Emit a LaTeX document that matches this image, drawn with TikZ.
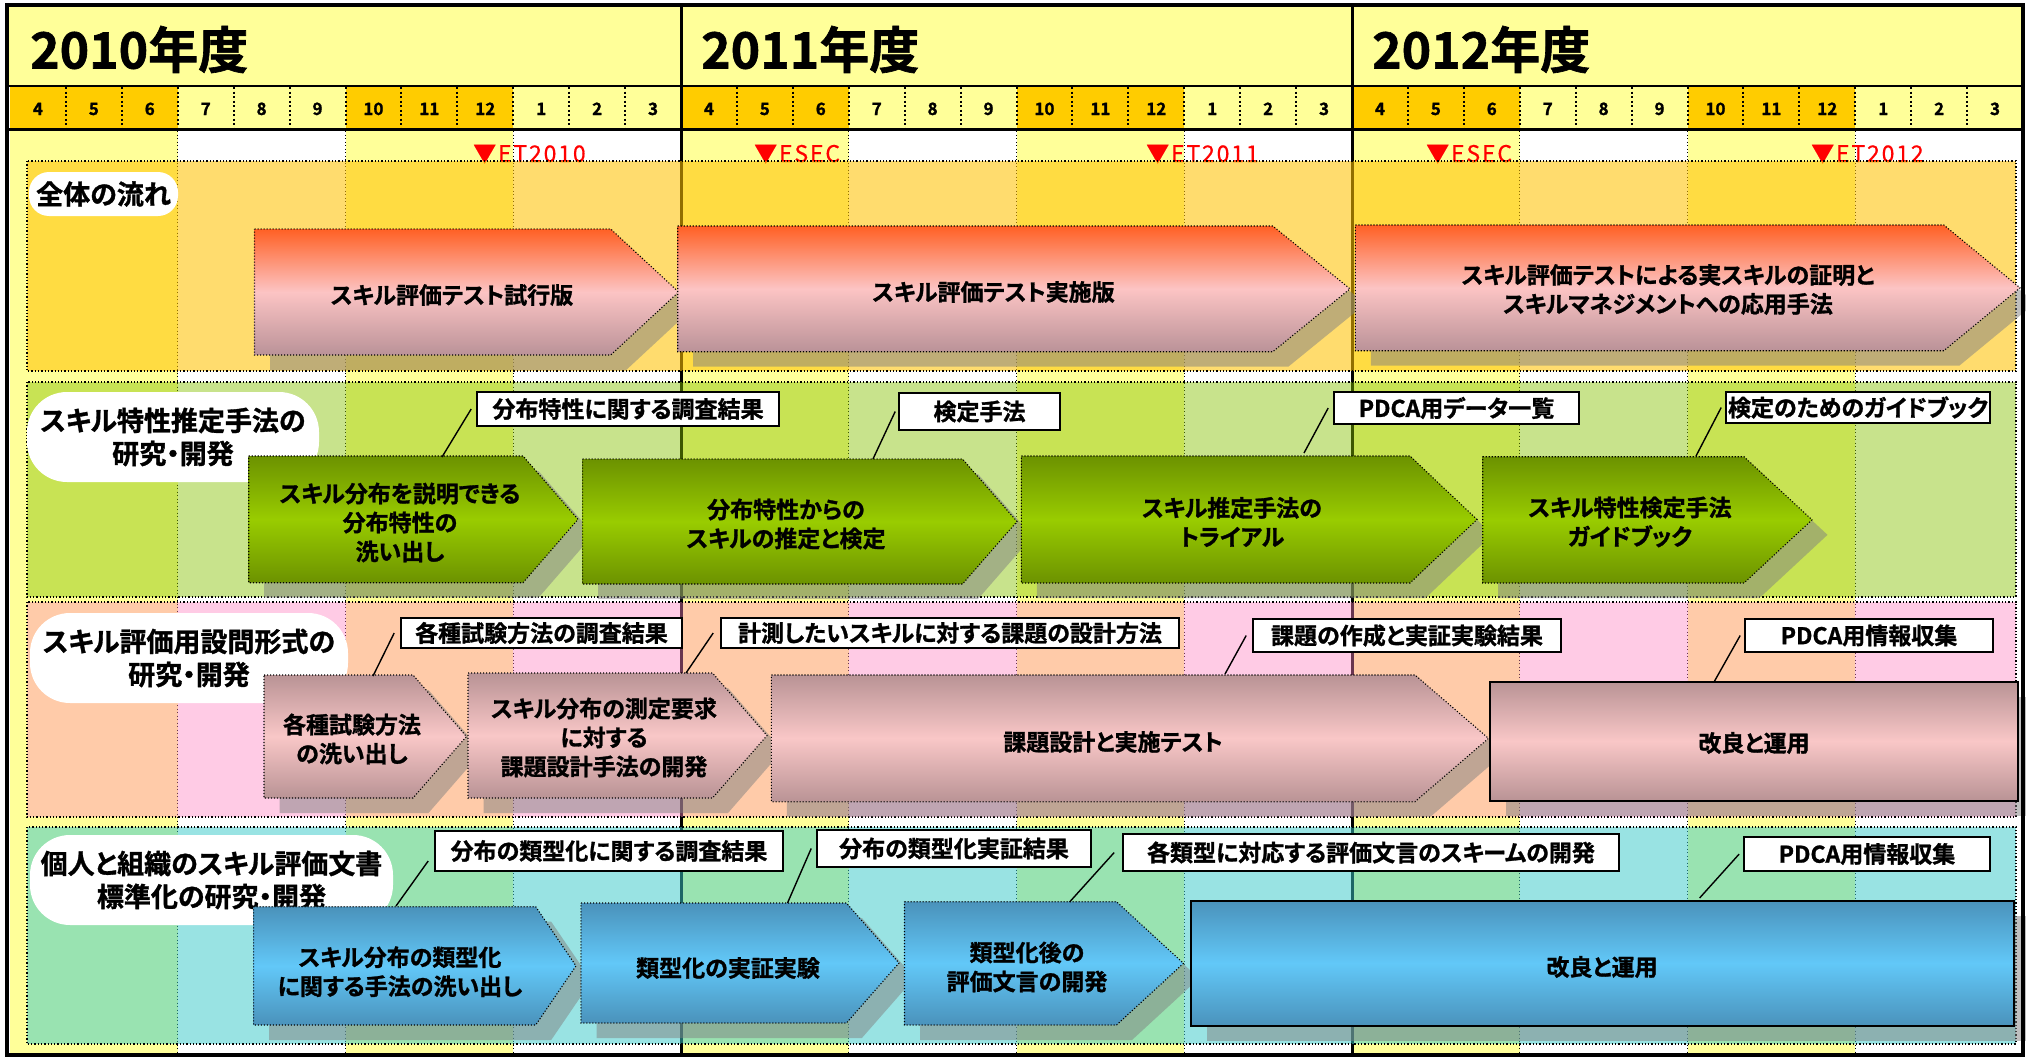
\documentclass[tikz,border=0pt]{standalone}
\usepackage{fontspec}
\setmainfont{Noto Sans CJK JP Bold}[RawFeature={+palt}, FakeBold=1.2]
\newfontfamily\mkfont{Noto Sans CJK JP}[LetterSpace=8, FakeBold=0.6]
\usetikzlibrary{calc}
\definecolor{hy}{HTML}{FFFF99}
\definecolor{ho}{HTML}{FFCC00}
\definecolor{b1c}{RGB}{255,194,0}
\definecolor{b2c}{RGB}{135,195,0}
\definecolor{b3c}{RGB}{255,131,194}
\definecolor{b4c}{RGB}{55,202,202}
\definecolor{redtop}{RGB}{255,96,36}
\definecolor{redmid}{RGB}{252,196,196}
\definecolor{redbot}{RGB}{186,146,152}
\definecolor{grnout}{RGB}{108,146,0}
\definecolor{grnmid}{RGB}{153,204,0}
\definecolor{pnkout}{RGB}{185,147,149}
\definecolor{pnkmid}{RGB}{249,199,199}
\definecolor{bluout}{RGB}{74,146,187}
\definecolor{blumid}{RGB}{98,200,248}
\definecolor{mkred}{RGB}{255,0,0}
% #1 style, #2 x left, #3 y top, #4 x point start, #5 x tip, #6 y bottom
\newcommand{\ArrowShape}[6]{%
  \fill[shadowfill] ({#2+15.5},{#3+15}) -- ({#4+15.5},{#3+15}) -- ({#5+15.5},{(#3+#6)/2+15}) -- ({#4+15.5},{#6+15}) -- ({#2+15.5},{#6+15}) -- cycle;
  \path[#1] (#2,#3) -- (#4,#3) -- (#5,{(#3+#6)/2}) -- (#4,#6) -- (#2,#6) -- cycle;
}
\begin{document}
\begin{tikzpicture}[x=1pt,y=-1pt,
  txt/.style={font=\fontsize{23}{29}\selectfont, align=center, inner sep=0pt, text=black},
  pill/.style={fill=white, inner sep=0pt, align=center, font=\fontsize{27}{33}\selectfont},
  callout/.style={draw=black, line width=1.6pt, fill=white, inner sep=0pt, font=\fontsize{23}{27}\selectfont},
  leader/.style={draw=black, line width=1.4pt},
  arrdot/.style={draw=black, line width=1.1pt, dash pattern=on 1.1pt off 1.9pt},
  arrsolid/.style={draw=black, line width=2pt},
  shadowfill/.style={fill=gray, fill opacity=0.5},
  redarr/.style={top color=redtop, bottom color=redbot, middle color=redmid},
  grnarr/.style={top color=grnout, bottom color=grnout, middle color=grnmid},
  pnkarr/.style={top color=pnkout, bottom color=pnkout, middle color=pnkmid},
  bluarr/.style={top color=bluout, bottom color=bluout, middle color=blumid},
  qline/.style={draw=black, line width=1.3pt, dash pattern=on 1.3pt off 2.2pt},
  mline/.style={draw=black, line width=2pt, dash pattern=on 2pt off 2.5pt},
  bandline/.style={draw=black, line width=1.3pt, dash pattern=on 1.3pt off 2pt},
  mnum/.style={font=\fontsize{17}{17}\selectfont, anchor=base, inner sep=0pt},
  ytitle/.style={font=\fontsize{50}{50}\selectfont, anchor=base west, inner sep=0pt},
  marker/.style={font=\mkfont\fontsize{23}{23}\selectfont, text=mkred, anchor=base west, inner sep=0pt}
]
\useasboundingbox (0,0) rectangle (2026,1057);
\fill[white] (0,0) rectangle (2026,1057);
% header rows
\fill[hy] (7,5) rectangle (2023,86);
\foreach \i in {0,...,35}{
  \pgfmathsetmacro\xa{10+55.9167*\i}
  \pgfmathsetmacro\xb{\xa+55.9167}
  \pgfmathtruncatemacro\q{mod(\i,12)/3}
  \pgfmathtruncatemacro\mo{mod(\i+3,12)+1}
  \ifodd\q \def\cc{hy}\else\def\cc{ho}\fi
  \fill[\cc] (\xa,86) rectangle (\xb,129);
  \node[mnum] (m\i) at ({(\xa+\xb)/2},115) {\mo};
}
\foreach \i in {1,...,35}{
  \pgfmathtruncatemacro\r{mod(\i,12)}
  \ifnum\r>0 \draw[mline] ({10+55.9167*\i},87) -- ({10+55.9167*\i},128); \fi
}
% body background quarters
\foreach \q in {0,...,11}{
  \pgfmathsetmacro\xa{10+167.75*\q}
  \pgfmathsetmacro\xb{\xa+167.75}
  \ifodd\q \def\cc{white}\else\def\cc{hy}\fi
  \fill[\cc] (\xa,131) rectangle (\xb,1054);
}
\foreach \q in {1,2,3,5,6,7,9,10,11}{
  \draw[qline] ({10+167.75*\q},131) -- ({10+167.75*\q},1054);
}
% event markers
\node[marker] (e1) at (473,162) {▼ET2010};
\node[marker] (e2) at (754,162) {▼ESEC};
\node[marker] (e3) at (1146,162) {▼ET2011};
\node[marker] (e4) at (1426,162) {▼ESEC};
\node[marker] (e5) at (1811,162) {▼ET2012};
% year lines
\draw[line width=3pt] (681,5) -- (681,1055);
\draw[line width=3pt] (1352,5) -- (1352,1055);
% bands
\path[fill=b1c, fill opacity=0.57, bandline] (27,161) rectangle (2016,371);
\path[fill=b2c, fill opacity=0.45, bandline] (27,382) rectangle (2016,597);
\path[fill=b3c, fill opacity=0.41, bandline] (27,602) rectangle (2016,817);
\path[fill=b4c, fill opacity=0.51, bandline] (27,827) rectangle (2016,1044);
% pills
\node[pill, minimum width=149pt, minimum height=44pt, rounded corners=20pt] (pl1) at (103.5,194) {全体の流れ};
\node[pill, minimum width=292pt, minimum height=90pt, rounded corners=40pt] (pl2) at (173,437) {スキル特性推定手法の\\研究・開発};
\node[pill, minimum width=318pt, minimum height=90pt, rounded corners=40pt] (pl3) at (189,658) {スキル評価用設問形式の\\研究・開発};
\node[pill, minimum width=363pt, minimum height=90pt, rounded corners=40pt] (pl4) at (211.5,880) {個人と組織のスキル評価文書\\標準化の研究・開発};
% band 1 arrows
\ArrowShape{redarr,arrdot}{254.5}{229}{610.7}{678.6}{355}
\ArrowShape{redarr,arrdot}{677.7}{226}{1272.8}{1350}{351.7}
\ArrowShape{redarr,arrdot}{1355.4}{225}{1943.8}{2020}{350.7}
\node[txt] (a1t) at (452,295) {スキル評価テスト試行版};
\node[txt] (a2t) at (993.5,292) {スキル評価テスト実施版};
\node[txt] (a3t) at (1668,289.5) {スキル評価テストによる実スキルの証明と\\スキルマネジメントへの応用手法};
% band 2 arrows
\ArrowShape{grnarr,arrdot}{248.7}{456}{523}{578}{582.7}
\ArrowShape{grnarr,arrdot}{582.6}{459}{962.5}{1017}{584}
\ArrowShape{grnarr,arrdot}{1021.4}{456}{1410}{1477}{583}
\ArrowShape{grnarr,arrdot}{1482.7}{456.7}{1744}{1812}{583}
\node[txt] (g1t) at (400,522.5) {スキル分布を説明できる\\分布特性の\\洗い出し};
\node[txt] (g2t) at (786,524) {分布特性からの\\スキルの推定と検定};
\node[txt] (g3t) at (1232,522) {スキル推定手法の\\トライアル};
\node[txt] (g4t) at (1630,522) {スキル特性検定手法\\ガイドブック};
% band 3 arrows
\ArrowShape{pnkarr,arrdot}{264}{675}{413}{466.5}{798}
\ArrowShape{pnkarr,arrdot}{468}{673}{712.5}{767}{798}
\ArrowShape{pnkarr,arrdot}{771.4}{675}{1415}{1488.5}{801.7}
\fill[shadowfill] (1505.5,696.7) rectangle (2033,815.7);
\path[pnkarr,arrsolid] (1490,681.7) rectangle (2017.5,800.7);
\node[txt] (p1t) at (352,739) {各種試験方法\\の洗い出し};
\node[txt] (p2t) at (604,737.5) {スキル分布の測定要求\\に対する\\課題設計手法の開発};
\node[txt] (p3t) at (1113,742) {課題設計と実施テスト};
\node[txt] (p4t) at (1754,743) {改良と運用};
% band 4 arrows
\ArrowShape{bluarr,arrdot}{253.6}{906.7}{535.7}{576}{1025}
\ArrowShape{bluarr,arrdot}{581}{903}{846.4}{899}{1023}
\ArrowShape{bluarr,arrdot}{904.5}{901.7}{1116.5}{1183.5}{1025}
\fill[shadowfill] (1206.5,915.7) rectangle (2029.5,1041);
\path[bluarr,arrsolid] (1191,900.7) rectangle (2014,1026);
\node[txt] (b1t) at (400,971.7) {スキル分布の類型化\\に関する手法の洗い出し};
\node[txt] (b2t) at (728,968) {類型化の実証実験};
\node[txt] (b3t) at (1027,967) {類型化後の\\評価文言の開発};
\node[txt] (b4t) at (1602,967) {改良と運用};
% leader end points
\coordinate (g1top) at (442,457);
\coordinate (g2top) at (873,459);
\coordinate (g3top) at (1304,453);
\coordinate (g4top) at (1696,456);
\coordinate (p1top) at (373,676);
\coordinate (p2top) at (686,673);
\coordinate (p3top) at (1225,674);
\coordinate (p4top) at (1714,682);
\coordinate (b1top) at (396,906);
\coordinate (b2top) at (787.5,903);
\coordinate (b3top) at (1069.6,902);
\coordinate (b4top) at (1699.6,898);
% callouts
\node[callout, minimum width=302pt, minimum height=34pt] (c2a) at (628,409) {分布特性に関する調査結果};
\node[callout, minimum width=161pt, minimum height=37pt] (c2b) at (979.5,411.5) {検定手法};
\node[callout, minimum width=245pt, minimum height=32pt] (c2c) at (1456.5,408) {PDCA用データ一覧};
\node[callout, minimum width=264pt, minimum height=31pt] (c2d) at (1858,407.5) {検定のためのガイドブック};
\node[callout, minimum width=281pt, minimum height=30pt] (c3a) at (541.5,633) {各種試験方法の調査結果};
\node[callout, minimum width=458pt, minimum height=30pt] (c3b) at (950,633) {計測したいスキルに対する課題の設計方法};
\node[callout, minimum width=308pt, minimum height=33pt] (c3c) at (1407,635.5) {課題の作成と実証実験結果};
\node[callout, minimum width=248pt, minimum height=33pt] (c3d) at (1869,635.5) {PDCA用情報収集};
\node[callout, minimum width=348pt, minimum height=40pt] (c4a) at (609,851) {分布の類型化に関する調査結果};
\node[callout, minimum width=274pt, minimum height=37pt] (c4b) at (954,848.5) {分布の類型化実証結果};
\node[callout, minimum width=496pt, minimum height=37pt] (c4c) at (1371,852.5) {各類型に対応する評価文言のスキームの開発};
\node[callout, minimum width=246pt, minimum height=34pt] (c4d) at (1867,854) {PDCA用情報収集};
\draw[leader] ([xshift=-5pt]c2a.west) -- (g1top);
\draw[leader] ([xshift=-3pt]c2b.west) -- (g2top);
\draw[leader] ([xshift=-5pt]c2c.west) -- (g3top);
\draw[leader] ([xshift=-4pt]c2d.west) -- (g4top);
\draw[leader] ([xshift=-6pt]c3a.west) -- (p1top);
\draw[leader] ([xshift=-7pt]c3b.west) -- (p2top);
\draw[leader] ([xshift=-6pt]c3c.west) -- (p3top);
\draw[leader] ([xshift=-4pt]c3d.west) -- (p4top);
\draw[leader] ([xshift=-6pt,yshift=-10pt]c4a.west) -- (b1top);
\draw[leader] ([xshift=-5pt]c4b.west) -- (b2top);
\draw[leader] ([xshift=-8pt]c4c.west) -- (b3top);
\draw[leader] ([xshift=-4pt]c4d.west) -- (b4top);
% year titles
\node[ytitle] (y1) at (30,68.5) {2010年度};
\node[ytitle] (y2) at (701,68.5) {2011年度};
\node[ytitle] (y3) at (1372,68.5) {2012年度};
% header lines and border
\draw[line width=3pt] (681,5) -- (681,131);
\draw[line width=3pt] (1352,5) -- (1352,131);
\draw[line width=2pt] (7,86) -- (2023,86);
\draw[line width=3.5pt] (7,129.5) -- (2023,129.5);
\draw[line width=4pt] (7,5) rectangle (2023,1055);
\end{tikzpicture}
\end{document}
